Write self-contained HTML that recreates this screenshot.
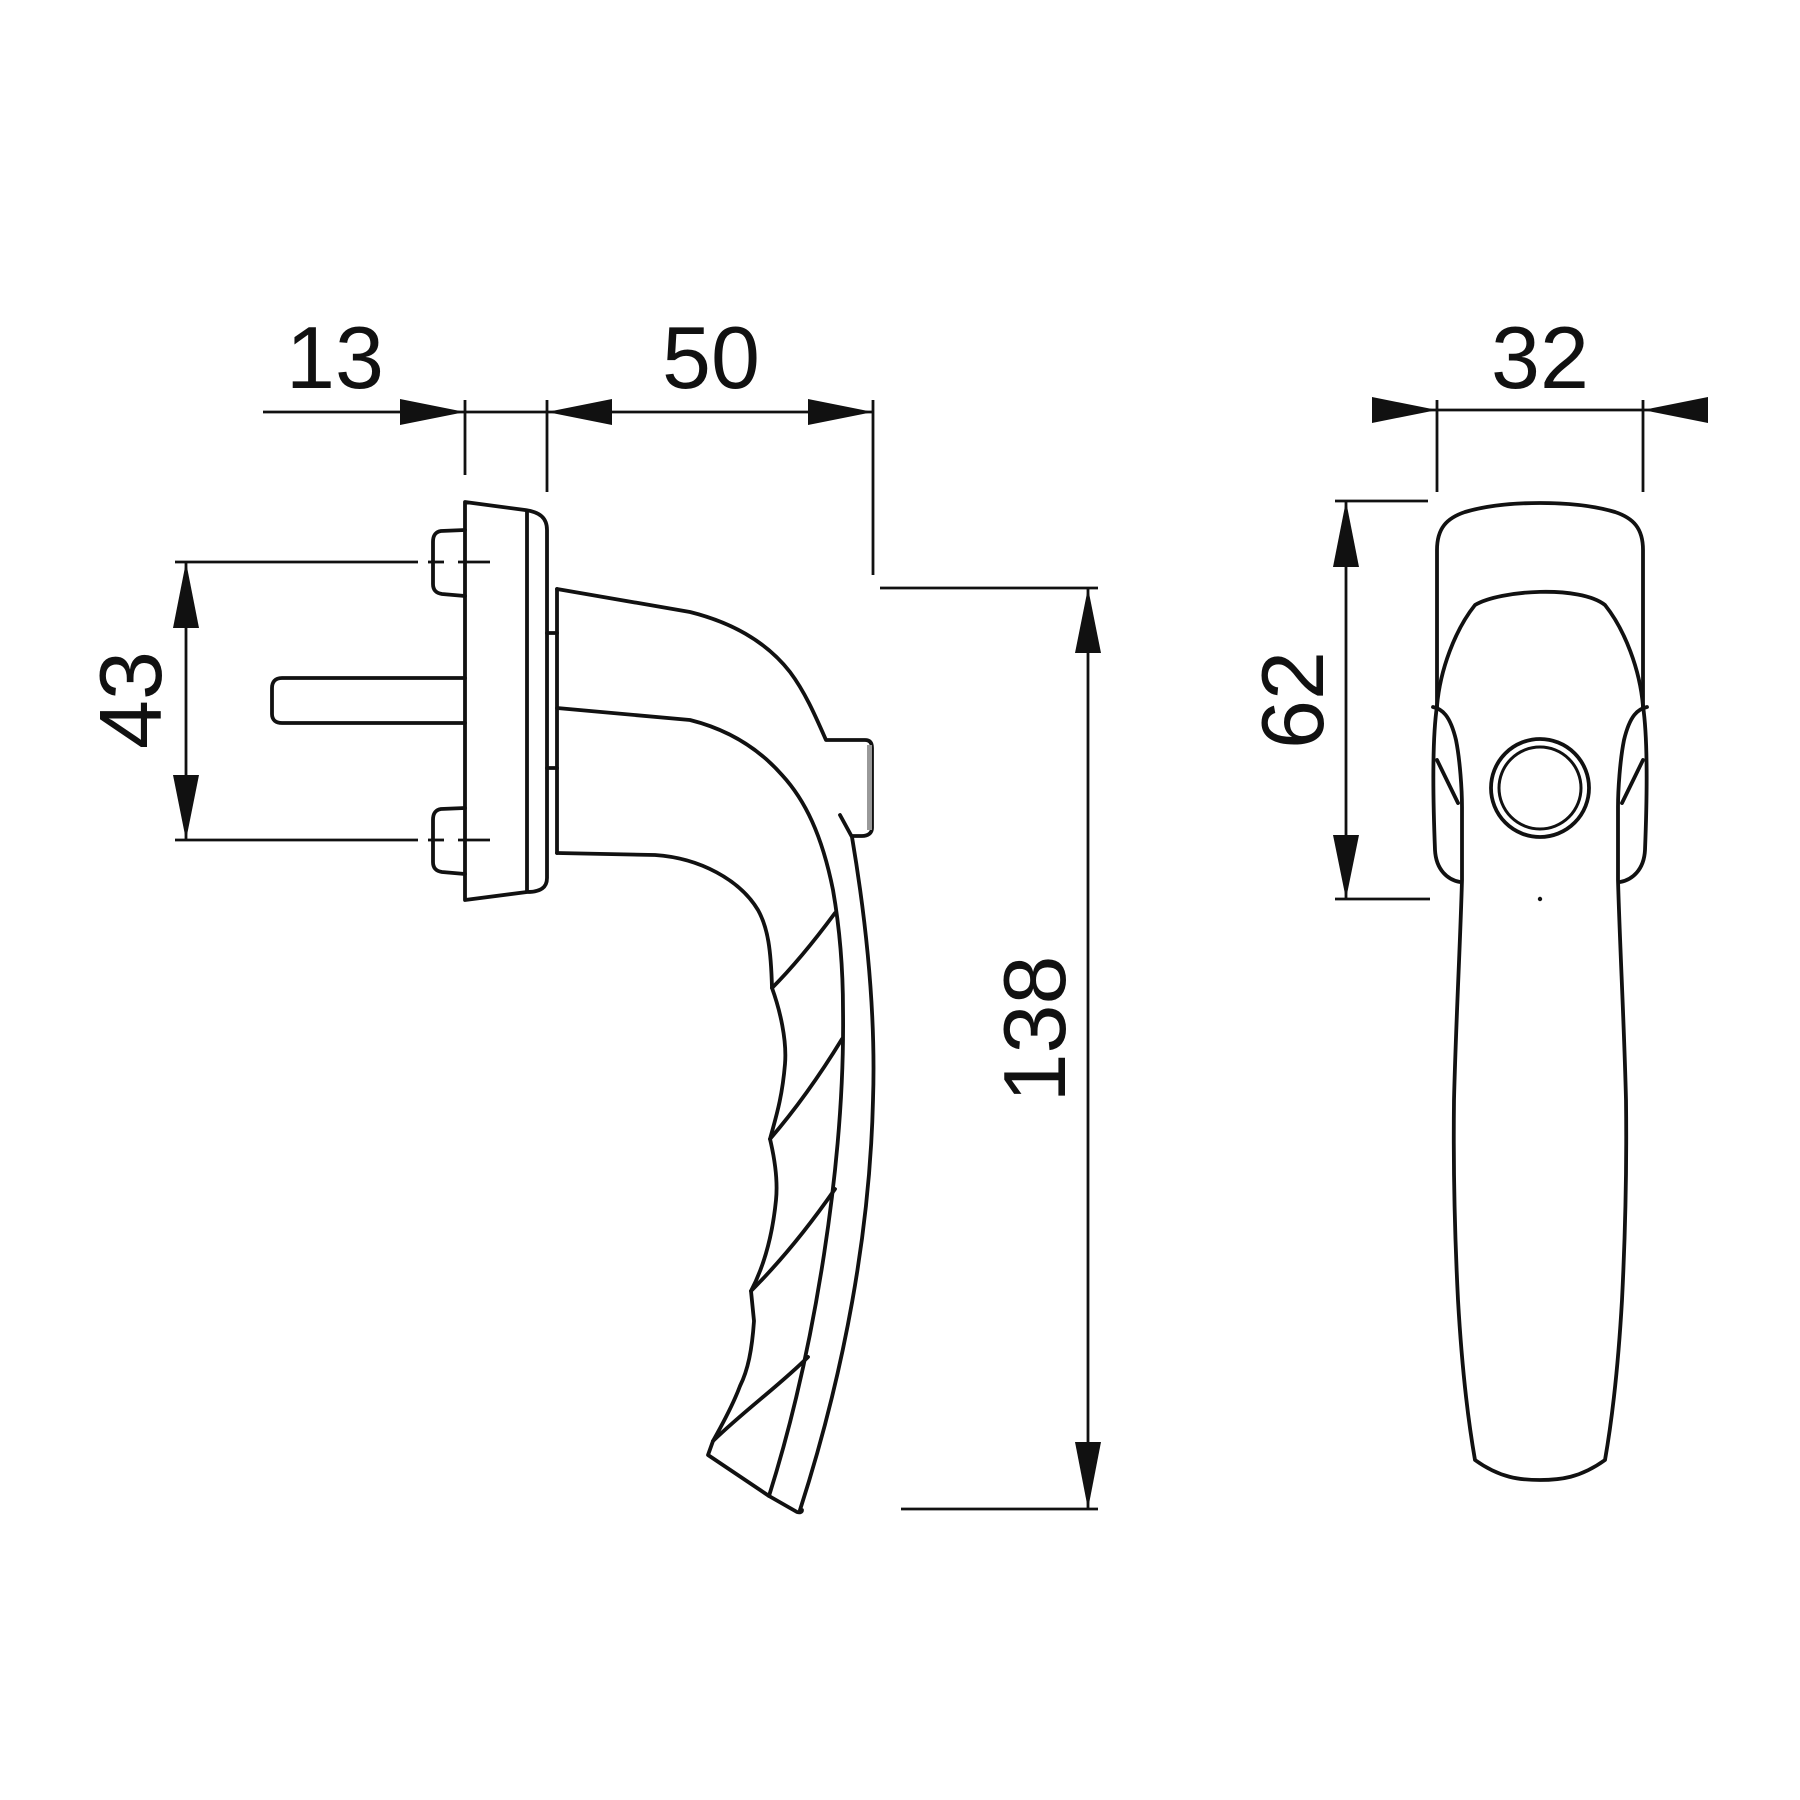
<!DOCTYPE html>
<html><head><meta charset="utf-8"><style>html,body{margin:0;padding:0;background:#fff}svg{display:block}</style></head>
<body>
<svg width="1800" height="1800" viewBox="0 0 1800 1800" xmlns="http://www.w3.org/2000/svg">
<g fill="none" stroke="#111" stroke-width="3.8" stroke-linejoin="round" stroke-linecap="round">
<!-- rosette side -->
<path d="M465,502 L525,510 C540,512 547,518 547,530 L547,878 C547,888 540,892 527,892 L465,900 Z"/>
<line x1="527" y1="511" x2="527" y2="891"/>
<!-- screws -->
<path d="M465,530 L441,531 C435,532 433,536 433,542 L433,584 C433,590 436,593 442,594 L465,596"/>
<path d="M465,808 L441,809 C435,810 433,814 433,820 L433,862 C433,868 436,871 442,872 L465,874"/>
<!-- spindle -->
<path d="M465,678 L282,678 C275,678 272,682 272,688 L272,714 C272,720 276,723 282,723 L465,723"/>
<!-- handle side -->
<line x1="557" y1="589" x2="557" y2="853"/>
<line x1="547" y1="633" x2="557" y2="633"/>
<line x1="547" y1="768" x2="557" y2="768"/>
<path d="M557,589 L690,612 C730,622 765,640 790,672 C805,692 815,715 826,740 L865,740 C870,740 872,743 872,748 L872,828 C872,833 868,836 862,836 L852,836"/>
<path d="M840,815 L852,837 C866,920 876,1010 873,1100 C870,1230 845,1370 800,1510"/>
<path d="M557,708 L690,720 C730,730 760,750 782,775 C805,800 822,835 833,890 C840,930 843,970 843,1010 C845,1160 815,1350 769,1496"/>
<path d="M557,853 L655,855 C700,858 740,880 758,910 C768,928 771,950 772,988 C780,1010 787,1040 785,1064 C782,1100 775,1120 770,1139 C775,1160 778,1180 776,1200 C772,1240 762,1270 751,1291 L754,1321 C752,1350 748,1370 740,1386 C733,1405 722,1425 713,1441 L708,1455 L769,1496 L797,1512 C800,1513 802,1512 802,1510"/>
<path d="M772,988 C795,965 815,940 835,913"/>
<path d="M770,1139 C795,1110 820,1075 842,1039"/>
<path d="M751,1291 C780,1262 810,1225 835,1189"/>
<path d="M713,1441 C745,1410 780,1385 808,1357"/>
<!-- right view -->
<path d="M1437,706 L1437,550 C1437,528 1447,518 1465,512 C1505,500 1575,500 1615,512 C1633,518 1643,528 1643,550 L1643,706"/>
<path d="M1437,706 C1440,670 1455,630 1475,605 C1500,590 1580,585 1605,605 C1625,630 1640,670 1643,706"/>
<path d="M1437,706 C1432,740 1433,800 1435,850 C1436,870 1448,880 1460,882"/>
<path d="M1643,706 C1648,740 1647,800 1645,850 C1644,870 1632,880 1620,882"/>
<path d="M1433,707 C1442,709 1450,715 1456,740 C1460,760 1462,790 1462,807 L1462,880 C1460,950 1456,1020 1454,1100 C1453,1180 1455,1240 1458,1300 C1462,1370 1468,1420 1475,1460 C1500,1478 1520,1480 1540,1480 C1560,1480 1580,1478 1605,1460 C1612,1420 1618,1370 1622,1300 C1625,1240 1627,1180 1626,1100 C1624,1020 1620,950 1618,880 L1618,807 C1618,790 1620,760 1624,740 C1630,715 1638,709 1647,707"/>
<path d="M1437,760 L1458,803"/>
<path d="M1643,760 L1622,803"/>
<circle cx="1540" cy="788" r="49"/>
<circle cx="1540" cy="788" r="41" stroke-width="3"/>
</g>
<circle cx="1540" cy="899" r="2.2" fill="#111"/>
<rect x="867" y="745" width="5" height="85" fill="#999"/>
<!-- dimension lines -->
<g stroke="#111" stroke-width="2.8" fill="none">
<line x1="263" y1="412" x2="873" y2="412"/>
<line x1="465" y1="400" x2="465" y2="475"/>
<line x1="547" y1="400" x2="547" y2="492"/>
<line x1="873" y1="400" x2="873" y2="575"/>
<line x1="175" y1="562" x2="418" y2="562"/>
<line x1="175" y1="840" x2="418" y2="840"/>
<line x1="186" y1="562" x2="186" y2="840"/>
<line x1="428" y1="562" x2="444" y2="562"/><line x1="458" y1="562" x2="490" y2="562"/>
<line x1="428" y1="840" x2="444" y2="840"/><line x1="458" y1="840" x2="490" y2="840"/>
<line x1="880" y1="588" x2="1098" y2="588"/>
<line x1="901" y1="1509" x2="1098" y2="1509"/>
<line x1="1088" y1="588" x2="1088" y2="1509"/>
<line x1="1372" y1="410" x2="1708" y2="410"/>
<line x1="1437" y1="400" x2="1437" y2="492"/>
<line x1="1643" y1="400" x2="1643" y2="492"/>
<line x1="1335" y1="501" x2="1428" y2="501"/>
<line x1="1335" y1="899" x2="1430" y2="899"/>
<line x1="1346" y1="501" x2="1346" y2="899"/>
</g>
<g fill="#111">
<polygon points="465,412 400,399 400,425"/>
<polygon points="547,412 612,399 612,425"/>
<polygon points="873,412 808,399 808,425"/>
<polygon points="186,562 173,628 199,628"/>
<polygon points="186,840 173,775 199,775"/>
<polygon points="1088,588 1075,653 1101,653"/>
<polygon points="1088,1509 1075,1442 1101,1442"/>
<polygon points="1437,410 1372,397 1372,423"/>
<polygon points="1643,410 1708,397 1708,423"/>
<polygon points="1346,501 1333,567 1359,567"/>
<polygon points="1346,899 1333,835 1359,835"/>
</g>
<g font-family="Liberation Sans, sans-serif" font-size="88" fill="#111" text-anchor="middle">
<text x="335" y="388">13</text>
<text x="711" y="388">50</text>
<text x="1540" y="388">32</text>
<text transform="translate(161,700) rotate(-90)">43</text>
<text transform="translate(1323,700) rotate(-90)">62</text>
<text transform="translate(1065,1029) rotate(-90)">138</text>
</g>
</svg>
</body></html>
